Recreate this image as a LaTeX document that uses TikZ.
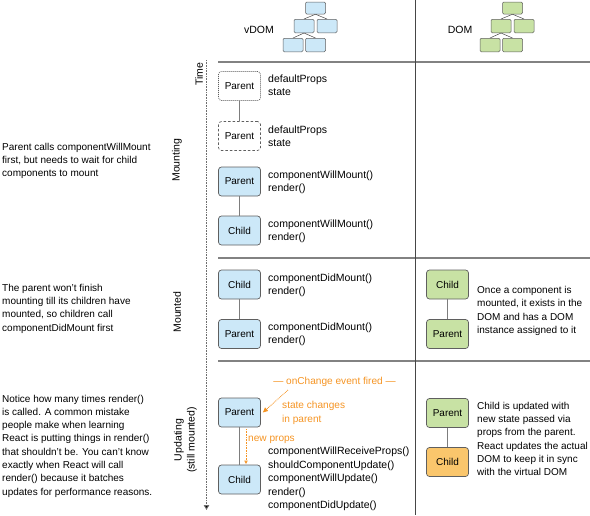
\documentclass[tikz,border=0pt]{standalone}
\usepackage{fontspec}
\setmainfont{Liberation Sans}
\usetikzlibrary{arrows.meta}
\definecolor{vblue}{RGB}{204,232,248}
\definecolor{dgreen}{RGB}{200,226,164}
\definecolor{obox}{RGB}{250,198,108}
\definecolor{boxline}{RGB}{95,95,95}
\definecolor{linkgray}{RGB}{125,125,125}
\definecolor{sepgray}{RGB}{130,130,130}
\definecolor{vline}{RGB}{70,70,70}
\definecolor{orng}{RGB}{245,148,35}
\definecolor{axisgray}{RGB}{110,110,110}
\tikzset{
  comp/.style={draw=boxline, line width=0.7pt, rounded corners=3pt, minimum width=42pt, minimum height=29pt, inner sep=0pt, font=\fontsize{10}{12}\selectfont},
  vcomp/.style={comp, fill=vblue},
  dcomp/.style={comp, fill=dgreen},
  ocomp/.style={comp, fill=obox},
  dotcomp/.style={comp, dash pattern=on 1pt off 1pt, fill=white},
  dashcomp/.style={comp, dash pattern=on 2.5pt off 2pt, fill=white},
  link/.style={draw=linkgray, line width=1.3pt},
  sepline/.style={draw=sepgray, line width=1.2pt},
  methods/.style={anchor=west, align=left, inner sep=0pt, font=\fontsize{10.5}{13.4}\selectfont},
  note/.style={anchor=west, align=left, inner sep=0pt, font=\fontsize{10}{13.3}\selectfont},
  otext/.style={inner sep=0pt, text=orng, font=\fontsize{10.1}{13.8}\selectfont},
  phase/.style={rotate=90, inner sep=0pt, align=center, font=\fontsize{10.5}{13}\selectfont},
  iconbox/.style={draw=boxline, line width=0.5pt, rounded corners=1.2pt, minimum width=20pt, minimum height=13.5pt, inner sep=0pt},
  iconlink/.style={draw=vline, line width=0.5pt}
}
\begin{document}
\begin{tikzpicture}[x=1pt,y=-1pt]
\useasboundingbox (0,0) rectangle (590,515);

% separators
\coordinate (v0) at (415,0);
\coordinate (v1) at (415,515);
\coordinate (h1a) at (218,62);  \coordinate (h1b) at (590,62);
\coordinate (h2a) at (218,258); \coordinate (h2b) at (590,258);
\coordinate (h3a) at (218,361); \coordinate (h3b) at (590,361);
\draw[sepline] (h1a) -- (h1b);
\draw[sepline] (h2a) -- (h2b);
\draw[sepline] (h3a) -- (h3b);
\draw[draw=vline, line width=0.8pt] (v0) -- (v1);

% header icons
\node (lv) at (259,30) {\fontsize{10.5}{12}\selectfont vDOM};
\node[iconbox, fill=vblue, minimum height=12pt] (iv1) at (315.5,8) {};
\node[iconbox, fill=vblue] (iv2) at (304,26) {};
\node[iconbox, fill=vblue] (iv3) at (327,26) {};
\node[iconbox, fill=vblue] (iv4) at (293,45) {};
\node[iconbox, fill=vblue] (iv5) at (315.5,45) {};
\draw[iconlink] (iv1.south) -- (iv2.north);
\draw[iconlink] (iv1.south) -- (iv3.north);
\draw[iconlink] (iv2.south) -- (iv4.north);
\draw[iconlink] (iv2.south) -- (iv5.north);

\node (ld) at (460,30) {\fontsize{10.5}{12}\selectfont DOM};
\node[iconbox, fill=dgreen, minimum height=12pt] (id1) at (512.5,8) {};
\node[iconbox, fill=dgreen] (id2) at (501,26) {};
\node[iconbox, fill=dgreen] (id3) at (524,26) {};
\node[iconbox, fill=dgreen] (id4) at (490,45) {};
\node[iconbox, fill=dgreen] (id5) at (512.5,45) {};
\draw[iconlink] (id1.south) -- (id2.north);
\draw[iconlink] (id1.south) -- (id3.north);
\draw[iconlink] (id2.south) -- (id4.north);
\draw[iconlink] (id2.south) -- (id5.north);

% time axis
\coordinate (t0) at (206.5,60);
\coordinate (t1) at (206.5,510);
\draw[draw=axisgray, line width=0.9pt, dash pattern=on 0.8pt off 0.8pt, -{Triangle[length=5pt,width=5.5pt,fill=black]}] (t0) -- (t1);
\node[phase] (ptime) at (199,74) {Time};
\node[phase] (pmounting) at (177,160) {Mounting};
\node[phase] (pmounted) at (177,312) {Mounted};
\node[phase] (pupdating) at (185.5,440) {Updating\\(still mounted)};

% mounting
\node[dotcomp] (P0) at (239.5,86) {Parent};
\node[dashcomp] (P1) at (239.5,136) {Parent};
\draw[link] (P0) -- (P1);
\node[methods] (m0) at (268,85) {defaultProps\\state};
\node[methods] (m1) at (268,136) {defaultProps\\state};

\node[vcomp] (P2) at (239.5,181.5) {Parent};
\node[vcomp] (C2) at (239.5,230.5) {Child};
\draw[link] (P2) -- (C2);
\node[methods] (m2) at (268,182) {componentWillMount()\\render()};
\node[methods] (m3) at (268,231) {componentWillMount()\\render()};

% mounted
\node[vcomp] (C3) at (239.5,284.5) {Child};
\node[vcomp] (P3) at (239.5,334) {Parent};
\draw[link] (C3) -- (P3);
\node[methods] (m4) at (268,285) {componentDidMount()\\render()};
\node[methods] (m5) at (268,334.5) {componentDidMount()\\render()};

\node[dcomp] (DC3) at (447.5,284.5) {Child};
\node[dcomp] (DP3) at (447.5,334) {Parent};
\draw[link] (DC3) -- (DP3);
\node[note] (dn1) at (477,311) {Once a component is\\mounted, it exists in the\\DOM and has a DOM\\instance assigned to it};

% updating
\node[vcomp] (P4) at (239.5,412.5) {Parent};
\node[vcomp] (C4) at (239.5,479.5) {Child};
\draw[link] (P4) -- (C4);
\node[otext] (oc) at (334.5,382) {— onChange event fired —};
\node[otext, anchor=west, align=left] (sc) at (282,413) {state changes\\in parent};
\node[otext, anchor=west] (npl) at (248,440) {new props};
\coordinate (oa0) at (288,390);
\draw[orng, line width=0.8pt, dash pattern=on 0.8pt off 0.8pt, -{Triangle[length=5pt,width=4.5pt]}] (oa0) -- ([xshift=2pt]P4.east);
\coordinate (np0) at (246,429);
\coordinate (np1) at (246,464);
\draw[orng, line width=0.8pt, dash pattern=on 0.8pt off 0.8pt, -{Triangle[open,length=3.5pt,width=3.5pt]}] (np0) -- (np1);
\node[methods] (m6) at (268,479) {componentWillReceiveProps()\\shouldComponentUpdate()\\componentWillUpdate()\\render()\\componentDidUpdate()};

\node[dcomp] (DP4) at (447.5,413) {Parent};
\node[ocomp] (DC4) at (447.5,462) {Child};
\draw[link] (DP4) -- (DC4);
\node[note] (dn2) at (477,439) {Child is updated with\\new state passed via\\props from the parent.\\React updates the actual\\DOM to keep it in sync\\with the virtual DOM};

% left notes
\node[note] (ln1) at (2,161) {Parent calls componentWillMount\\first, but needs to wait for child\\components to mount};
\node[note] (ln2) at (2,308.5) {The parent won’t finish\\mounting till its children have\\mounted, so children call\\componentDidMount first};
\node[note] (ln3) at (2,446) {Notice how many times render()\\is called. A common mistake\\people make when learning\\React is putting things in render()\\that shouldn’t be. You can’t know\\exactly when React will call\\render() because it batches\\updates for performance reasons.};
\end{tikzpicture}
\end{document}
